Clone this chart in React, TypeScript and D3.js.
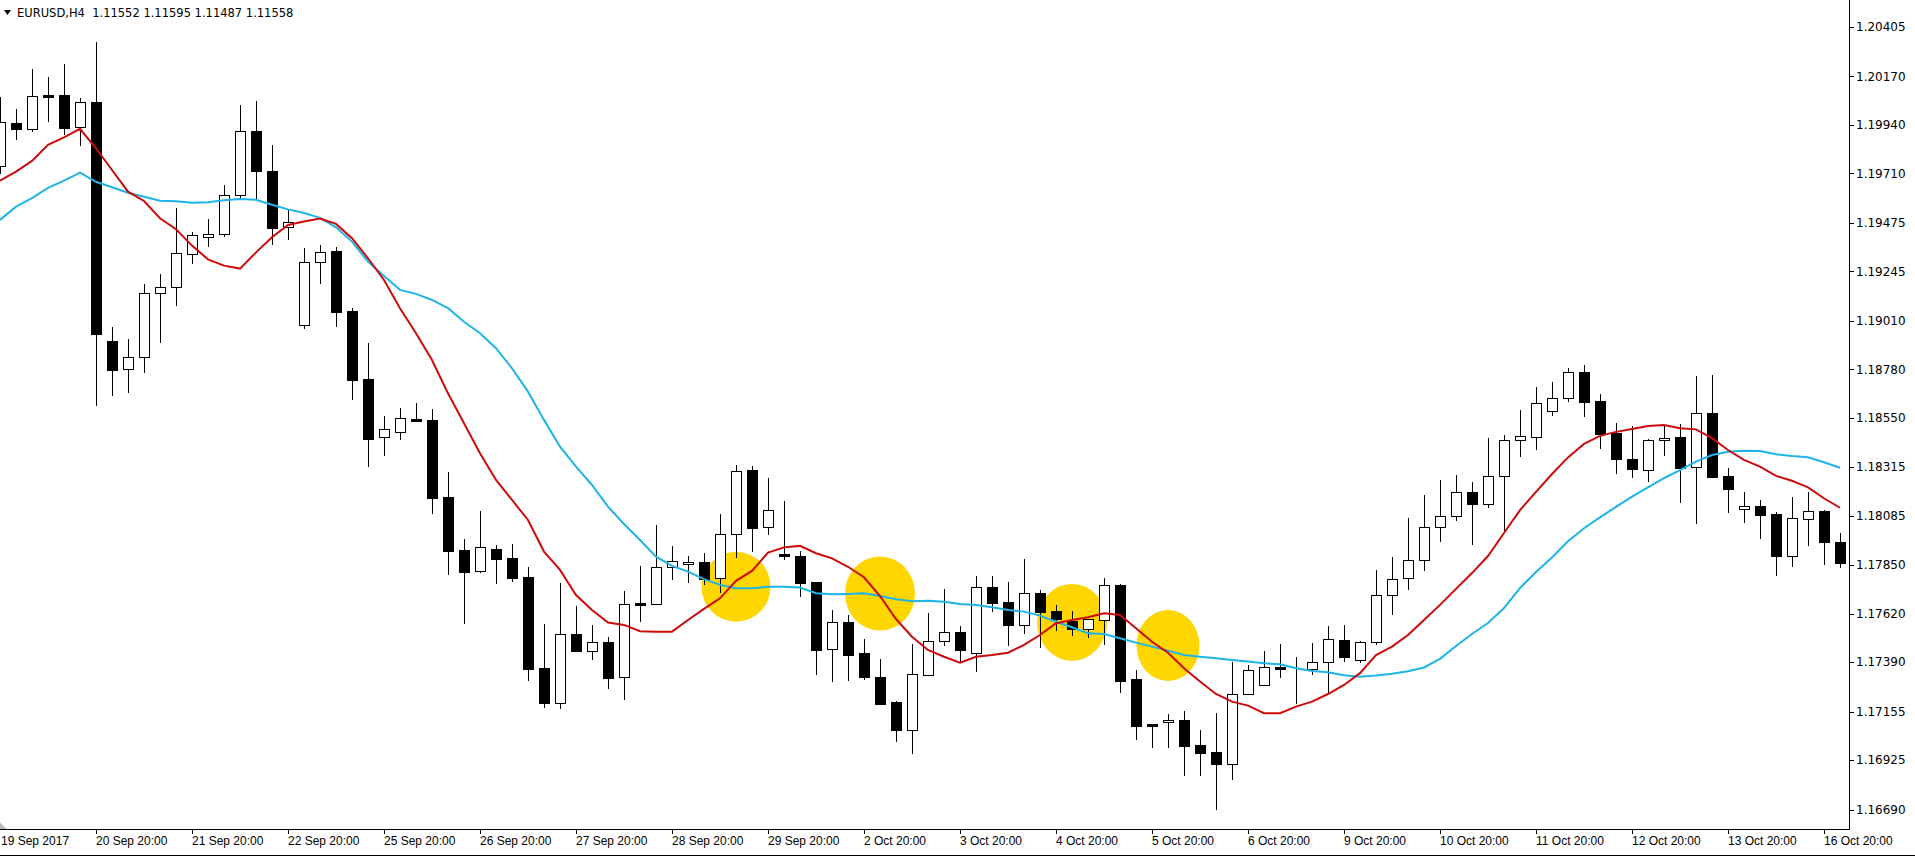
import React from 'react';
import * as d3 from 'd3';

// EURUSD H4 candles (index 0 = 19 Sep 20:00)
const opens = [1.19744, 1.19948, 1.19922, 1.20080, 1.20082, 1.19929, 1.20049, 1.18913, 1.18780, 1.18837,
  1.19141, 1.19169, 1.19326, 1.19409, 1.19421, 1.19606, 1.19911, 1.19721, 1.19454, 1.18989,
  1.19288, 1.19342, 1.19057, 1.18734, 1.18457, 1.18481, 1.18544, 1.18540, 1.18174, 1.17923,
  1.17824, 1.17927, 1.17885, 1.17795, 1.17363, 1.17198, 1.17524, 1.17442, 1.17485, 1.17319,
  1.17671, 1.17668, 1.17840, 1.17855, 1.17866, 1.17788, 1.17997, 1.18302, 1.18030, 1.17904,
  1.17894, 1.17771, 1.17451, 1.17581, 1.17434, 1.17320, 1.17201, 1.17067, 1.17328, 1.17489,
  1.17532, 1.17432, 1.17747, 1.17676, 1.17565, 1.17719, 1.17633, 1.17586, 1.17546, 1.17589,
  1.17757, 1.17310, 1.17096, 1.17105, 1.17116, 1.16997, 1.16964, 1.16906, 1.17238, 1.17281,
  1.17367, 1.17358, 1.17356, 1.17390, 1.17496, 1.17399, 1.17485, 1.17708, 1.17788, 1.17875,
  1.18030, 1.18083, 1.18196, 1.18141, 1.18272, 1.18443, 1.18457, 1.18581, 1.18642, 1.18766,
  1.18628, 1.18476, 1.18354, 1.18301, 1.18443, 1.18457, 1.18315, 1.18573, 1.18272, 1.18119,
  1.18131, 1.18093, 1.17896, 1.18071, 1.18108, 1.17959];

const highs = [1.20074, 1.20014, 1.20205, 1.20167, 1.20229, 1.20068, 1.20332, 1.18981, 1.18924, 1.19185,
  1.19232, 1.19544, 1.19430, 1.19492, 1.19655, 1.20034, 1.20053, 1.19843, 1.19541, 1.19354,
  1.19370, 1.19359, 1.19070, 1.18904, 1.18559, 1.18596, 1.18620, 1.18592, 1.18293, 1.17975,
  1.18108, 1.17945, 1.17951, 1.17842, 1.17570, 1.17765, 1.17657, 1.17565, 1.17511, 1.17728,
  1.17847, 1.18041, 1.17942, 1.17893, 1.17907, 1.18093, 1.18327, 1.18321, 1.18264, 1.18155,
  1.17918, 1.17771, 1.17638, 1.17616, 1.17500, 1.17405, 1.17206, 1.17477, 1.17622, 1.17736,
  1.17561, 1.17799, 1.17799, 1.17771, 1.17878, 1.17731, 1.17662, 1.17633, 1.17595, 1.17788,
  1.17761, 1.17352, 1.17098, 1.17143, 1.17157, 1.17068, 1.17149, 1.17391, 1.17375, 1.17443,
  1.17475, 1.17413, 1.17480, 1.17561, 1.17565, 1.17492, 1.17828, 1.17888, 1.18073, 1.18184,
  1.18253, 1.18277, 1.18244, 1.18454, 1.18467, 1.18586, 1.18695, 1.18718, 1.18786, 1.18801,
  1.18662, 1.18524, 1.18511, 1.18451, 1.18510, 1.18521, 1.18748, 1.18753, 1.18310, 1.18198,
  1.18160, 1.18101, 1.18174, 1.18198, 1.18111, 1.18003];

const lows = [1.19710, 1.19874, 1.19912, 1.19960, 1.19898, 1.19846, 1.18612, 1.18660, 1.18674, 1.18766,
  1.18911, 1.19087, 1.19283, 1.19367, 1.19414, 1.19599, 1.19592, 1.19373, 1.19399, 1.18978,
  1.19191, 1.18987, 1.18641, 1.18323, 1.18373, 1.18451, 1.18535, 1.18100, 1.17810, 1.17578,
  1.17820, 1.17767, 1.17777, 1.17306, 1.17179, 1.17171, 1.17445, 1.17407, 1.17269, 1.17214,
  1.17587, 1.17665, 1.17784, 1.17772, 1.17760, 1.17725, 1.17891, 1.17919, 1.18000, 1.17878,
  1.17706, 1.17336, 1.17300, 1.17304, 1.17312, 1.17193, 1.17018, 1.16961, 1.17328, 1.17472,
  1.17391, 1.17350, 1.17635, 1.17473, 1.17530, 1.17464, 1.17543, 1.17519, 1.17511, 1.17478,
  1.17249, 1.17027, 1.16989, 1.16989, 1.16855, 1.16855, 1.16695, 1.16837, 1.17238, 1.17281,
  1.17318, 1.17195, 1.17336, 1.17247, 1.17394, 1.17390, 1.17478, 1.17621, 1.17736, 1.17826,
  1.17964, 1.18066, 1.17952, 1.18125, 1.18014, 1.18370, 1.18403, 1.18562, 1.18631, 1.18560,
  1.18408, 1.18289, 1.18270, 1.18252, 1.18375, 1.18152, 1.18052, 1.18270, 1.18104, 1.18057,
  1.17981, 1.17805, 1.17848, 1.17948, 1.17858, 1.17843];

const closes = [1.19952, 1.19922, 1.20076, 1.20074, 1.19927, 1.20049, 1.18946, 1.18778, 1.18837, 1.19141,
  1.19169, 1.19331, 1.19416, 1.19421, 1.19606, 1.19910, 1.19723, 1.19452, 1.19478, 1.19288,
  1.19335, 1.19053, 1.18731, 1.18451, 1.18495, 1.18548, 1.18535, 1.18171, 1.17919, 1.17820,
  1.17935, 1.17878, 1.17791, 1.17358, 1.17198, 1.17523, 1.17445, 1.17485, 1.17317, 1.17665,
  1.17663, 1.17840, 1.17869, 1.17864, 1.17786, 1.17997, 1.18298, 1.18028, 1.18111, 1.17893,
  1.17767, 1.17448, 1.17580, 1.17426, 1.17320, 1.17193, 1.17067, 1.17333, 1.17489, 1.17532,
  1.17450, 1.17746, 1.17672, 1.17568, 1.17719, 1.17630, 1.17594, 1.17546, 1.17595, 1.17757,
  1.17302, 1.17089, 1.17089, 1.17114, 1.16994, 1.16961, 1.16906, 1.17238, 1.17352, 1.17366,
  1.17356, 1.17356, 1.17390, 1.17499, 1.17413, 1.17485, 1.17708, 1.17784, 1.17875, 1.18030,
  1.18083, 1.18196, 1.18140, 1.18272, 1.18443, 1.18462, 1.18619, 1.18643, 1.18766, 1.18624,
  1.18475, 1.18352, 1.18306, 1.18445, 1.18455, 1.18313, 1.18571, 1.18270, 1.18214, 1.18131,
  1.18090, 1.17896, 1.18073, 1.18106, 1.17962, 1.17862];

// moving averages as drawn on the chart
const maFast = [1.19675, 1.19718, 1.19769, 1.19845, 1.19881, 1.19921, 1.19829, 1.19726, 1.19623, 1.19579,
  1.19497, 1.19445, 1.19367, 1.19302, 1.19272, 1.19258, 1.19335, 1.19407, 1.19465, 1.19481,
  1.19496, 1.19470, 1.19402, 1.19307, 1.19204, 1.19070, 1.18951, 1.18824, 1.18666, 1.18524,
  1.18382, 1.18255, 1.18160, 1.18065, 1.17915, 1.17828, 1.17709, 1.17638, 1.17578, 1.17567,
  1.17537, 1.17535, 1.17535, 1.17590, 1.17643, 1.17693, 1.17776, 1.17823, 1.17910, 1.17935,
  1.17942, 1.17907, 1.17883, 1.17843, 1.17793, 1.17704, 1.17595, 1.17511, 1.17448, 1.17416,
  1.17388, 1.17416, 1.17424, 1.17435, 1.17472, 1.17519, 1.17575, 1.17590, 1.17603, 1.17622,
  1.17614, 1.17551, 1.17487, 1.17435, 1.17361, 1.17298, 1.17239, 1.17203, 1.17184, 1.17148,
  1.17148, 1.17179, 1.17203, 1.17239, 1.17282, 1.17338, 1.17424, 1.17464, 1.17519, 1.17590,
  1.17662, 1.17738, 1.17813, 1.17894, 1.18003, 1.18112, 1.18198, 1.18283, 1.18362, 1.18426,
  1.18464, 1.18483, 1.18497, 1.18511, 1.18516, 1.18500, 1.18495, 1.18453, 1.18397, 1.18350,
  1.18318, 1.18274, 1.18251, 1.18220, 1.18168, 1.18123];

const maSlow = [1.19489, 1.19552, 1.19592, 1.19641, 1.19675, 1.19713, 1.19670, 1.19644, 1.19618, 1.19599,
  1.19580, 1.19577, 1.19571, 1.19573, 1.19582, 1.19588, 1.19585, 1.19561, 1.19539, 1.19522,
  1.19499, 1.19454, 1.19386, 1.19291, 1.19223, 1.19157, 1.19138, 1.19109, 1.19070, 1.19006,
  1.18951, 1.18880, 1.18785, 1.18674, 1.18540, 1.18413, 1.18318, 1.18231, 1.18128, 1.18046,
  1.17970, 1.17891, 1.17847, 1.17820, 1.17784, 1.17757, 1.17741, 1.17741, 1.17748, 1.17748,
  1.17744, 1.17717, 1.17712, 1.17714, 1.17717, 1.17704, 1.17689, 1.17679, 1.17682, 1.17677,
  1.17666, 1.17662, 1.17651, 1.17638, 1.17630, 1.17611, 1.17582, 1.17556, 1.17527, 1.17524,
  1.17504, 1.17483, 1.17464, 1.17445, 1.17424, 1.17416, 1.17409, 1.17401, 1.17393, 1.17385,
  1.17380, 1.17361, 1.17348, 1.17342, 1.17328, 1.17321, 1.17327, 1.17335, 1.17347, 1.17365,
  1.17406, 1.17467, 1.17524, 1.17576, 1.17647, 1.17742, 1.17818, 1.17887, 1.17964, 1.18026,
  1.18077, 1.18127, 1.18176, 1.18220, 1.18263, 1.18302, 1.18342, 1.18373, 1.18389, 1.18394,
  1.18392, 1.18377, 1.18369, 1.18363, 1.18339, 1.18313];

const priceTicks = [1.20405, 1.20170, 1.19940, 1.19710, 1.19475, 1.19245, 1.19010, 1.18780, 1.18550,
  1.18315, 1.18085, 1.17850, 1.17620, 1.17390, 1.17155, 1.16925, 1.16690];

const timeLabels = ['19 Sep 2017', '20 Sep 20:00', '21 Sep 20:00', '22 Sep 20:00', '25 Sep 20:00',
  '26 Sep 20:00', '27 Sep 20:00', '28 Sep 20:00', '29 Sep 20:00', '2 Oct 20:00', '3 Oct 20:00',
  '4 Oct 20:00', '5 Oct 20:00', '6 Oct 20:00', '9 Oct 20:00', '10 Oct 20:00', '11 Oct 20:00',
  '12 Oct 20:00', '13 Oct 20:00', '16 Oct 20:00'];
const timeLabelBars = [0, 6, 12, 18, 24, 30, 36, 42, 48, 54, 60, 66, 72, 78, 84, 90, 96, 102, 108, 114];

// highlighted crossings (bar index, price)
const crossBars = [46, 55, 67, 73];
const crossPrices = [1.17748, 1.17716, 1.17579, 1.17469];

const headerText = 'EURUSD,H4  1.11552 1.11595 1.11487 1.11558';

const WIDTH = 1915;
const HEIGHT = 857;
const PLOT_RIGHT = 1849;
const PLOT_BOTTOM = 829;
const crossRadii = [[34.5, 35], [35, 37], [35, 38.5], [31.5, 35.5]];

export default function App() {
  const x = d3.scaleLinear().domain([0, 115]).range([0, 1840]);
  const y = d3.scaleLinear().domain([1.16690, 1.20405]).range([809.7, 26.9]);

  const maLine = d3.line<number>()
    .x((_, i) => x(i))
    .y(d => y(d));

  const candles = opens.map((o, i) => {
    const cx = Math.round(x(i));
    const c = closes[i];
    const bull = c > o;
    const top = Math.round(y(Math.max(o, c)));
    const bot = Math.round(y(Math.min(o, c)));
    return (
      <g key={i}>
        <line x1={cx + 0.5} x2={cx + 0.5} y1={Math.round(y(highs[i]))} y2={Math.round(y(lows[i])) + 1}
          stroke="#000" strokeWidth={1} />
        <rect x={cx - 4.5} y={top + 0.5} width={10} height={Math.max(bot - top, 0)}
          fill={bull ? '#fff' : '#000'} stroke="#000" strokeWidth={1} />
      </g>
    );
  });

  return (
    <div>
      <style>{'body{margin:0;background:#fff}'}</style>
      <svg width={WIDTH} height={HEIGHT} style={{ display: 'block' }} shapeRendering="crispEdges">
        <rect x={0} y={0} width={WIDTH} height={HEIGHT} fill="#fff" />

        <defs>
          <clipPath id="plot">
            <rect x={0} y={0} width={PLOT_RIGHT} height={PLOT_BOTTOM} />
          </clipPath>
        </defs>

        <g clipPath="url(#plot)">
          {crossBars.map((b, i) => (
            <ellipse key={i} cx={x(b)} cy={y(crossPrices[i])} rx={crossRadii[i][0]} ry={crossRadii[i][1]}
              fill="#FFD600" shapeRendering="auto" />
          ))}
          {candles}
          <path d={maLine(maSlow) || ''} fill="none" stroke="#1EB4E8" strokeWidth={2} shapeRendering="auto" />
          <path d={maLine(maFast) || ''} fill="none" stroke="#CC0A0A" strokeWidth={2} shapeRendering="auto" />
        </g>

        {/* frame */}
        <line x1={PLOT_RIGHT + 0.5} x2={PLOT_RIGHT + 0.5} y1={0} y2={PLOT_BOTTOM + 1} stroke="#000" />
        <line x1={0} x2={PLOT_RIGHT + 1} y1={PLOT_BOTTOM + 0.5} y2={PLOT_BOTTOM + 0.5} stroke="#000" />
        <polygon points={`0,${PLOT_BOTTOM - 6} 6,${PLOT_BOTTOM} 0,${PLOT_BOTTOM}`} fill="#bbb" />

        {/* header */}
        <path d="M4,10 L11,10 L7.5,15 Z" fill="#000" shapeRendering="auto" />
        <text x={17} y={17} fontFamily="'DejaVu Sans', sans-serif" fontSize={11.5} fill="#000"
          style={{ whiteSpace: 'pre' }}>
          {headerText}
        </text>

        {/* price axis */}
        {priceTicks.map(p => (
          <g key={p}>
            <line x1={PLOT_RIGHT} x2={PLOT_RIGHT + 5} y1={Math.round(y(p)) + 0.5} y2={Math.round(y(p)) + 0.5}
              stroke="#000" />
            <text x={1856} y={y(p)} dy="0.35em" fontFamily="'DejaVu Sans', sans-serif" fontSize={12}
              fill="#000">{p.toFixed(5)}</text>
          </g>
        ))}

        {/* time axis */}
        {timeLabelBars.map((b, i) => (
          <g key={b}>
            {b > 0 && (
              <line x1={Math.round(x(b)) + 0.5} x2={Math.round(x(b)) + 0.5} y1={PLOT_BOTTOM} y2={PLOT_BOTTOM + 5}
                stroke="#000" />
            )}
            <text x={b > 0 ? Math.round(x(b)) : 1} y={845} fontFamily="'Liberation Sans', sans-serif"
              fontSize={12} fill="#000">{timeLabels[i]}</text>
          </g>
        ))}

        <line x1={0} x2={WIDTH} y1={855.5} y2={855.5} stroke="#000" />
      </svg>
    </div>
  );
}
